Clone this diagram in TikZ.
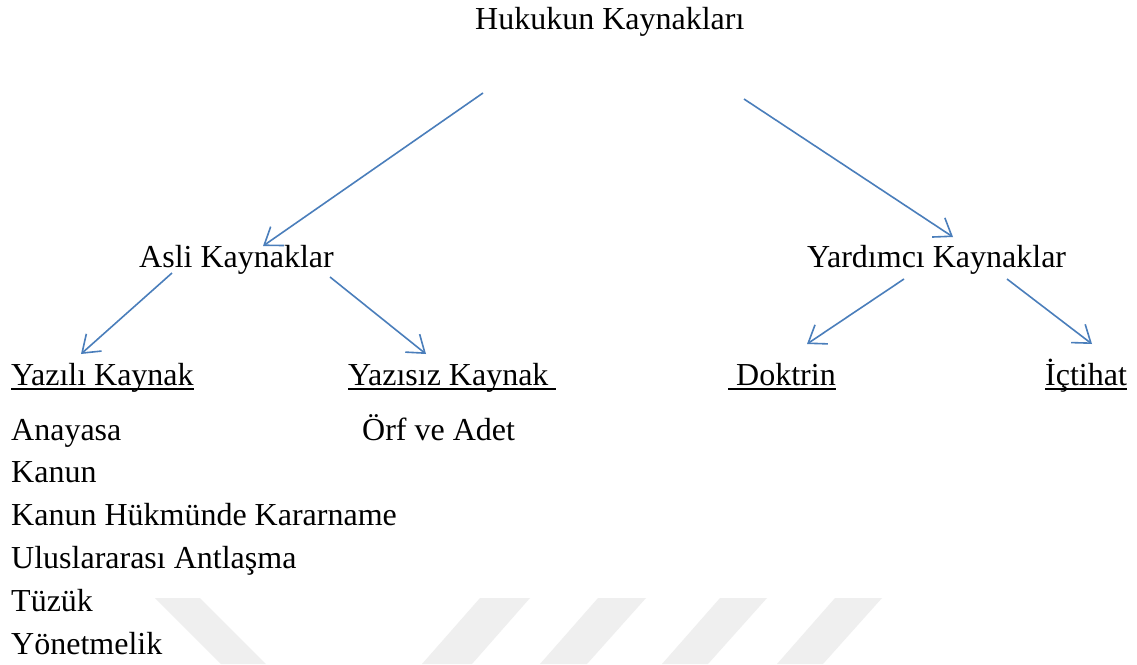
\documentclass[tikz,border=0pt]{standalone}
\usepackage{fontspec}
\setmainfont{Liberation Serif}
\usetikzlibrary{arrows.meta}
\definecolor{arrowblue}{HTML}{4A7EBB}
\definecolor{wmgray}{HTML}{EFEFEF}
\newcommand{\wul}[1]{\setbox0=\hbox{#1}\rlap{\rule[-5pt]{\wd0}{1.8pt}}\box0}
\begin{document}
\begin{tikzpicture}[x=1pt,y=-1pt,
  lbl/.style={anchor=base west, inner sep=0pt, font=\fontsize{32}{38}\selectfont},
  conn/.style={draw=arrowblue, line width=1.6pt, -{Straight Barb[length=16pt,width=23pt]}},
  wm/.style={fill=wmgray, draw=none}]
\useasboundingbox (0,0) rectangle (1137,664);
\fill[white] (0,0) rectangle (1137,664);
% watermark stripes
\fill[wm] (155,598) -- (200,598) -- (266,664) -- (221,664) -- cycle;
\fill[wm] (480,598) -- (530,598) -- (472,664) -- (422,664) -- cycle;
\fill[wm] (598,598) -- (646,598) -- (587,664) -- (540,664) -- cycle;
\fill[wm] (720,598) -- (767,598) -- (708,664) -- (662,664) -- cycle;
\fill[wm] (835,598) -- (882,598) -- (823,664) -- (777,664) -- cycle;
% texts
\node[lbl] (root) at (475,29) {Hukukun Kaynakları};
\node[lbl] (asli) at (139,267) {Asli Kaynaklar};
\node[lbl] (yard) at (807,267) {Yardımcı Kaynaklar};
\node[lbl] (yazili) at (11,385) {\wul{Yazılı Kaynak}};
\node[lbl] (yazisiz) at (348,385) {\wul{Yazısız Kaynak\ }};
\node[lbl] (doktrin) at (728,385) {\wul{\ Doktrin}};
\node[lbl] (ictihat) at (1045,385) {\wul{İçtihat}};
\node[lbl] (anayasa) at (11,440) {Anayasa};
\node[lbl] (orf) at (362,440) {Örf ve Adet};
\node[lbl] (kanun) at (11,482.8) {Kanun};
\node[lbl] (khk) at (11,525.6) {Kanun Hükmünde Kararname};
\node[lbl] (ua) at (11,568.4) {Uluslararası Antlaşma};
\node[lbl] (tuzuk) at (11,611.2) {Tüzük};
\node[lbl] (yonet) at (11,654) {Yönetmelik};
% connector end points
\coordinate (r1) at (483,93);
\coordinate (r2) at (744,99);
\coordinate (a0) at (263,246);
\coordinate (y0) at (953,237);
\coordinate (a1) at (172,273);
\coordinate (a2) at (330,277);
\coordinate (t1) at (81,354);
\coordinate (t2) at (426,354);
\coordinate (y1) at (904,279);
\coordinate (y2) at (1007,279);
\coordinate (t3) at (807,344);
\coordinate (t4) at (1092,344);
% connectors
\draw[conn] (r1) -- (a0);
\draw[conn] (r2) -- (y0);
\draw[conn] (a1) -- (t1);
\draw[conn] (a2) -- (t2);
\draw[conn] (y1) -- (t3);
\draw[conn] (y2) -- (t4);
\end{tikzpicture}
\end{document}
